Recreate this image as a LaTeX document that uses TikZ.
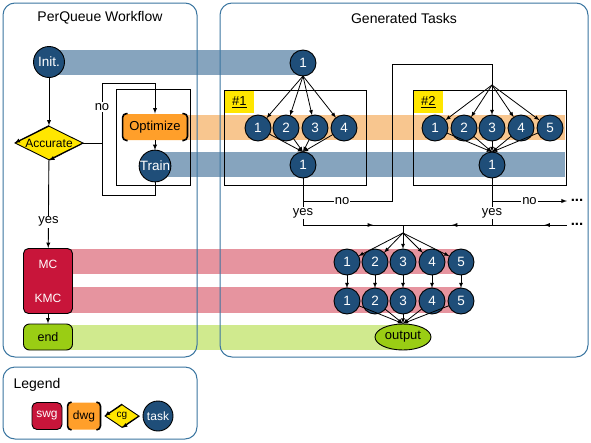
\documentclass[tikz,border=0pt]{standalone}
\usepackage{fontspec}
\setsansfont{Liberation Sans}
\usepackage{tkz-graph}
\usetikzlibrary{arrows}
\usetikzlibrary{shapes}
\usetikzlibrary{decorations.markings}

\definecolor{taskBlue}{HTML}{1F4E79}
\definecolor{bandBlue}{HTML}{86A4BE}
\definecolor{bandOrange}{HTML}{F8C68F}
\definecolor{dwgOrange}{HTML}{FF9F2A}
\definecolor{swgRed}{HTML}{C8153A}
\definecolor{bandRed}{HTML}{E6949F}
\definecolor{endGreen}{HTML}{9ACD14}
\definecolor{bandGreen}{HTML}{D0EA8E}
\definecolor{cgYellow}{HTML}{FFE600}
\definecolor{panelBlue}{HTML}{3A75A0}

\newcommand{\tasksize}{\fontsize{13.5}{16}\selectfont}
\tikzset{midArrow/.style = {postaction = {decorate}, decoration = {markings, mark = at position #1 with {\arrow{latex}}}}}

\begin{document}
\begin{tikzpicture}[x = 1pt, y = -1pt, font=\sffamily, >=latex, line width = 0.9pt]
	\tikzstyle{VertexStyle} = []
	\tikzstyle{EdgeStyle} = [->]
	\tikzstyle{LabelStyle} = [fill = none, inner sep = 0pt]
	\tikzstyle{taskStyle} = [shape = circle, minimum size = 26pt, inner sep = 0pt, draw, fill = taskBlue, text = white]
	\tikzstyle{bigTaskStyle} = [taskStyle, minimum size = 31pt]
	\tikzstyle{cgStyle} = [shape = diamond, aspect = 2, draw, fill = cgYellow, minimum width = 68pt, minimum height = 34pt, inner sep = 0pt, font = \sffamily\fontsize{12}{14}\selectfont]
	\tikzstyle{dwgStyle} = [rounded corners = 4pt, fill = dwgOrange, minimum width = 64pt, minimum height = 26pt, inner sep = 1pt, font = \sffamily\fontsize{13}{15}\selectfont]
	\tikzstyle{bracketStyle} = [line width = 1.6pt, rounded corners = 4pt]
	\tikzstyle{swgStyle} = [rounded corners = 5pt, draw, fill = swgRed, text = white, inner sep = 1pt, font = \sffamily\fontsize{12}{14}\selectfont]
	\tikzstyle{endStyle} = [rounded corners = 6pt, draw, fill = endGreen, minimum width = 49pt, minimum height = 26pt, inner sep = 0pt, font = \sffamily\fontsize{12.5}{14}\selectfont]
	\tikzstyle{outStyle} = [shape = ellipse, draw, fill = endGreen, minimum width = 56pt, minimum height = 26pt, inner sep = 0pt, font = \sffamily\fontsize{13}{15}\selectfont]
	\tikzstyle{tagStyle} = [fill = cgYellow, minimum width = 29pt, minimum height = 22pt, inner sep = 0pt, anchor = north west, font = \sffamily\fontsize{13}{15}\selectfont]
	\tikzstyle{panelStyle} = [draw = panelBlue, rounded corners = 12pt, line width = 1pt]
	\tikzstyle{titleStyle} = [font = \sffamily\fontsize{14}{16}\selectfont]
	\tikzstyle{lblStyle} = [fill = white, inner sep = 1pt, font = \sffamily\fontsize{13}{15}\selectfont]
	\tikzstyle{dotsStyle} = [font = \sffamily\bfseries\fontsize{15}{15}\selectfont]
	\useasboundingbox (0,0) rectangle (591,442);
	% bands
	\fill[bandBlue] (49,50) rectangle (303,75);
	\fill[bandOrange] (155,115) rectangle (565,140);
	\fill[bandBlue] (155,152) rectangle (565,177);
	\fill[bandRed] (48,249) rectangle (461,274);
	\fill[bandRed] (48,287) rectangle (461,313);
	\fill[bandGreen] (48,325) rectangle (403,350);
	% panels
	\draw[panelStyle] (3,3) rectangle (197,357);
	\draw[panelStyle] (220,3) rectangle (588,357);
	\draw[panelStyle] (3,367) rectangle (197,439);
	\node[titleStyle] (wfTitle) at (100,18) {PerQueue Workflow};
	\node[titleStyle] (genTitle) at (404,18) {Generated Tasks};
	\node[titleStyle] (legTitle) at (37,385) {Legend};
	% groups
	\node[tagStyle] (tag1) at (224.5,90.5) {\underline{\#1}};
	\node[tagStyle] (tag2) at (413.5,90.5) {\underline{\#2}};
	\draw (116,89) rectangle (190,185);
	\draw (224,90) rectangle (366,185);
	\draw (413,90) rectangle (566,185);
	% workflow
	\Vertex[style = bigTaskStyle, x = 49, y = 62, L = \tasksize {Init.}]{init}
	\node[cgStyle] (acc) at (49,143) {Accurate};
	\draw[->] (acc.north) -- (acc.west);
	\draw[->] (acc.east) -- (acc.south);
	\node[dwgStyle] (opt) at (155,127) {Optimize};
	\draw[bracketStyle] ([xshift = 5pt]opt.north west) -- (opt.north west) -- (opt.south west) -- ([xshift = 5pt]opt.south west);
	\draw[bracketStyle] ([xshift = -5pt]opt.north east) -- (opt.north east) -- (opt.south east) -- ([xshift = -5pt]opt.south east);
	\Vertex[style = bigTaskStyle, x = 155, y = 166, L = \tasksize {Train}]{train}
	\node[swgStyle, minimum width = 49pt, minimum height = 65pt, align = center] (mc) at (48,281) {MC\\[20pt]KMC};
	\node[endStyle] (endN) at (48,337) {end};
	\coordinate (loopTop) at (102,83);
	\coordinate (loopBot) at (102,195);
	\draw[->] (init) -- (acc);
	\draw[->] (acc.east) -| node[lblStyle, pos = 0.8] {no} (loopTop) -| (opt.north);
	\draw[->] (opt) -- (train);
	\draw (train) |- (loopBot) -- (loopBot |- acc.east);
	\draw[->] (acc) -- node[lblStyle, pos = 0.7] {yes} (mc);
	\draw[->] (mc) -- (endN);
	% generated tasks
	\Vertex[style = taskStyle, x = 303, y = 63, L = \tasksize {1}]{t0}
	\Vertex[style = taskStyle, x = 258, y = 128, L = \tasksize {1}]{a1}
	\Vertex[style = taskStyle, x = 286, y = 128, L = \tasksize {2}]{a2}
	\Vertex[style = taskStyle, x = 315, y = 128, L = \tasksize {3}]{a3}
	\Vertex[style = taskStyle, x = 344, y = 128, L = \tasksize {4}]{a4}
	\Vertex[style = taskStyle, x = 303, y = 165, L = \tasksize {1}]{b1}
	\Vertex[style = taskStyle, x = 435, y = 128, L = \tasksize {1}]{c1}
	\Vertex[style = taskStyle, x = 464, y = 128, L = \tasksize {2}]{c2}
	\Vertex[style = taskStyle, x = 492, y = 128, L = \tasksize {3}]{c3}
	\Vertex[style = taskStyle, x = 521, y = 128, L = \tasksize {4}]{c4}
	\Vertex[style = taskStyle, x = 550, y = 128, L = \tasksize {5}]{c5}
	\Vertex[style = taskStyle, x = 492, y = 165, L = \tasksize {1}]{d1}
	\Vertex[style = taskStyle, x = 347, y = 262, L = \tasksize {1}]{m1}
	\Vertex[style = taskStyle, x = 375, y = 262, L = \tasksize {2}]{m2}
	\Vertex[style = taskStyle, x = 403, y = 262, L = \tasksize {3}]{m3}
	\Vertex[style = taskStyle, x = 432, y = 262, L = \tasksize {4}]{m4}
	\Vertex[style = taskStyle, x = 461, y = 262, L = \tasksize {5}]{m5}
	\Vertex[style = taskStyle, x = 347, y = 301, L = \tasksize {1}]{k1}
	\Vertex[style = taskStyle, x = 375, y = 301, L = \tasksize {2}]{k2}
	\Vertex[style = taskStyle, x = 403, y = 301, L = \tasksize {3}]{k3}
	\Vertex[style = taskStyle, x = 432, y = 301, L = \tasksize {4}]{k4}
	\Vertex[style = taskStyle, x = 461, y = 301, L = \tasksize {5}]{k5}
	\node[outStyle] (out) at (403,337) {output};
	\coordinate (split1) at (303,201);
	\coordinate (jog) at (392,64);
	\coordinate (fan2) at (492,85);
	\coordinate (join1) at (303,225);
	\coordinate (split2) at (492,201);
	\coordinate (join2) at (492,225);
	\coordinate (hub) at (403,225);
	\coordinate (fan3) at (403,233);
	\node[dotsStyle] (more1) at (577,200) {...};
	\node[dotsStyle] (more2) at (577,224) {...};
	\Edge(t0.south)(a1)
	\Edge(t0.south)(a2)
	\Edge(t0.south)(a3)
	\Edge(t0.south)(a4)
	\Edge(a1)(b1.north)
	\Edge(a2)(b1.north)
	\Edge(a3)(b1.north)
	\Edge(a4)(b1.north)
	\Edge(fan2)(c1)
	\Edge(fan2)(c2)
	\Edge(fan2)(c3)
	\Edge(fan2)(c4)
	\Edge(fan2)(c5)
	\Edge(c1)(d1.north)
	\Edge(c2)(d1.north)
	\Edge(c3)(d1.north)
	\Edge(c4)(d1.north)
	\Edge(c5)(d1.north)
	\Edge(fan3)(m1)
	\Edge(fan3)(m2)
	\Edge(fan3)(m3)
	\Edge(fan3)(m4)
	\Edge(fan3)(m5)
	\Edge(m1)(k1)
	\Edge(m2)(k2)
	\Edge(m3)(k3)
	\Edge(m4)(k4)
	\Edge(m5)(k5)
	\Edge(k1)(out.north)
	\Edge(k2)(out.north)
	\Edge(k3)(out.north)
	\Edge(k4)(out.north)
	\Edge(k5)(out.north)
	\draw (b1) -- (split1) -| node[lblStyle, pos = 0.22] {no} (jog) -| (fan2);
	\draw (split1) -- node[lblStyle] {yes} (join1);
	\draw (d1) -- (split2);
	\draw[->] (split2) -- node[lblStyle] {no} (more1.west |- split2);
	\draw (split2) -- node[lblStyle] {yes} (join2);
	\draw[midArrow = 0.7] (join1) -- (hub);
	\draw[midArrow = 0.3] (more2.west |- join2) -- (join2);
	\draw[midArrow = 0.45] (join2) -- (hub);
	\draw (hub) -- (fan3);
	% legend
	\node[swgStyle, minimum width = 30pt, minimum height = 27pt] (legSwg) at (47,416) {swg};
	\node[dwgStyle, minimum width = 32pt, minimum height = 27pt, font = \sffamily\fontsize{12}{14}\selectfont] (legDwg) at (84,416) {dwg};
	\draw[bracketStyle] ([xshift = 4pt]legDwg.north west) -- (legDwg.north west) -- (legDwg.south west) -- ([xshift = 4pt]legDwg.south west);
	\draw[bracketStyle] ([xshift = -4pt]legDwg.north east) -- (legDwg.north east) -- (legDwg.south east) -- ([xshift = -4pt]legDwg.south east);
	\node[cgStyle, minimum width = 34pt, minimum height = 23pt, font = \sffamily\fontsize{10}{12}\selectfont] (legCg) at (122,416) {cg};
	\draw[->] (legCg.north) -- (legCg.west);
	\draw[->] (legCg.east) -- (legCg.south);
	\node[taskStyle, minimum size = 30pt, font = \sffamily\fontsize{12}{14}\selectfont] (legTask) at (158,416) {task};
\end{tikzpicture}
\end{document}
